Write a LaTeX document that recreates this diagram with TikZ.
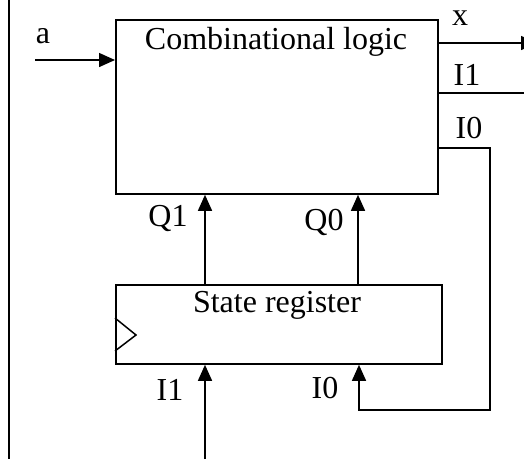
\documentclass[tikz,border=0pt]{standalone}
\usepackage{fontspec}
\setmainfont{Liberation Serif}
\usetikzlibrary{arrows.meta}
\begin{document}
\begin{tikzpicture}[x=1pt,y=-1pt,
  blk/.style={draw,line width=1.8pt,inner sep=0pt,anchor=north west},
  wire/.style={line width=1.5pt},
  arr/.style={wire,-{Triangle[length=16pt,width=14pt]}},
  lbl/.style={inner sep=0pt,font=\fontsize{32}{38}\selectfont}]
\useasboundingbox (0,0) rectangle (524,459);
% frame line
\coordinate (ftop) at (9,0);
\coordinate (fbot) at (9,459);
\draw[line width=1.8pt] (ftop) -- (fbot);
% blocks
\node[blk,minimum width=322pt,minimum height=174pt] (comb) at (115,19) {};
\node[blk,minimum width=326pt,minimum height=79pt] (reg) at (115,284) {};
\node[lbl] (combtxt) at (276,42) {Combinational logic};
\node[lbl] (regtxt) at (277,305) {State register};
% clock
\coordinate (ck1) at (115,318);
\coordinate (ck2) at (136,335);
\coordinate (ck3) at (115,351);
\draw[wire] (ck1) -- (ck2) -- (ck3);
% input a
\coordinate (ain) at (35,60);
\draw[arr] (ain) -- (ain -| comb.west);
\node[lbl] (alab) at (43,36) {a};
% output x
\coordinate (xout) at (537,43);
\draw[arr] (xout -| comb.east) -- (xout);
\node[lbl] (xlab) at (460,18) {x};
% I1 output
\coordinate (i1out) at (530,93);
\draw[wire] (i1out -| comb.east) -- (i1out);
\node[lbl] (i1lab) at (467,75) {I1};
% I0 feedback
\coordinate (i0a) at (490,148);
\coordinate (i0b) at (490,410);
\coordinate (i0c) at (359,410);
\draw[arr] (i0a -| comb.east) -- (i0a) -- (i0b) -- (i0c) -- (i0c |- reg.south);
\node[lbl] (i0lab) at (469,128) {I0};
% Q1, Q0
\coordinate (q1x) at (205,0);
\coordinate (q0x) at (358,0);
\draw[arr] (q1x |- reg.north) -- (q1x |- comb.south);
\draw[arr] (q0x |- reg.north) -- (q0x |- comb.south);
\node[lbl] (q1lab) at (168,218) {Q1};
\node[lbl] (q0lab) at (324,222) {Q0};
% I1 input to register
\coordinate (i1in) at (205,459);
\draw[arr] (i1in) -- (i1in |- reg.south);
\node[lbl] (i1inlab) at (170,390) {I1};
\node[lbl] (i0inlab) at (325,388) {I0};
\end{tikzpicture}
\end{document}
